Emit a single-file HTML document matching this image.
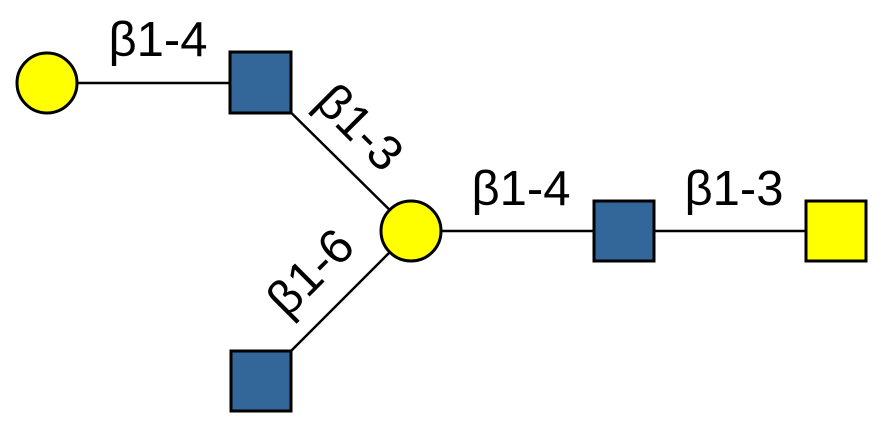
<!DOCTYPE html>
<html><head><style>html,body{margin:0;padding:0;background:#fff;}</style></head>
<body>
<svg width="883" height="439" viewBox="0 0 883 439" xmlns="http://www.w3.org/2000/svg" font-family="Liberation Sans, sans-serif" font-size="49">
<g stroke="#000" stroke-width="2.5">
<line x1="47" y1="83" x2="261" y2="83"/>
<line x1="261" y1="83" x2="411" y2="231"/>
<line x1="411" y1="231" x2="261" y2="381"/>
<line x1="411" y1="231" x2="836" y2="231"/>
</g>
<g stroke="#000" stroke-width="3">
<circle cx="47" cy="83" r="30" fill="#ffff00"/>
<rect x="230" y="52" width="61" height="61" fill="#336699"/>
<circle cx="411" cy="231" r="30" fill="#ffff00"/>
<rect x="594" y="201" width="60" height="60" fill="#336699"/>
<rect x="806" y="201" width="60" height="60" fill="#ffff00"/>
<rect x="231" y="351" width="60" height="60" fill="#336699"/>
</g>
<g fill="#000" text-anchor="middle">
<text x="158" y="56">β1-4</text>
<text x="521" y="205">β1-4</text>
<text x="734" y="205">β1-3</text>
<text transform="translate(360,127) rotate(45)" y="17">β1-3</text>
<text transform="translate(310,272) rotate(-45)" y="17">β1-6</text>
</g>
</svg>
</body></html>
